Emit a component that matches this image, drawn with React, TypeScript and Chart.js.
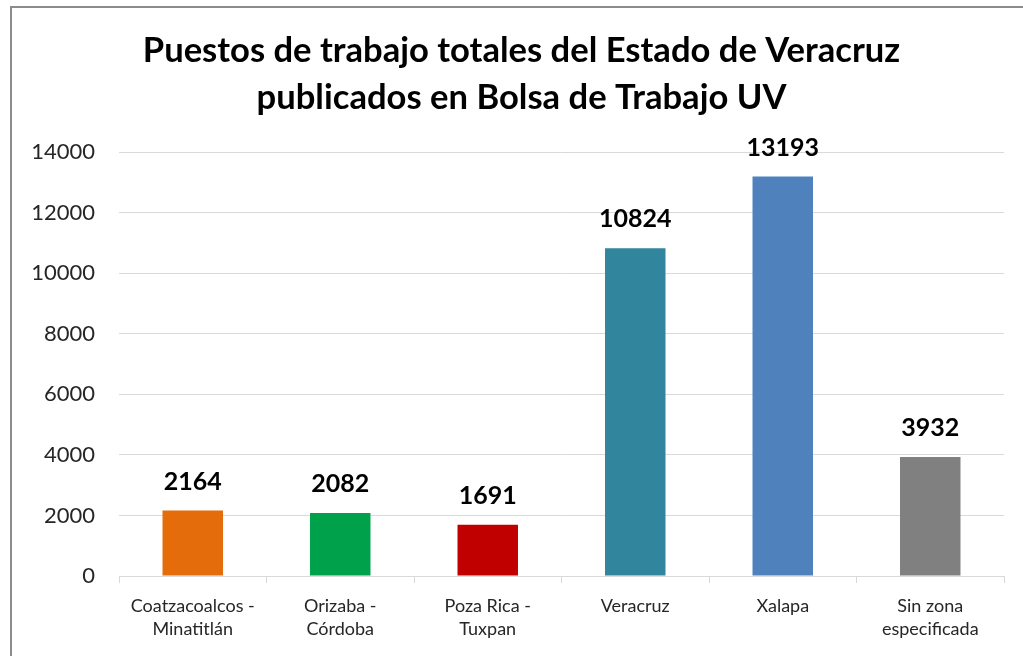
import React, { useEffect, useRef } from "react";
import { Chart, registerables } from "chart.js";

Chart.register(...registerables);

const titleLines = [
  "Puestos de trabajo totales del Estado de Veracruz",
  "publicados en Bolsa de Trabajo UV",
];
const categories: string[][] = [
  ["Coatzacoalcos -", "Minatitlán"],
  ["Orizaba -", "Córdoba"],
  ["Poza Rica -", "Tuxpan"],
  ["Veracruz"],
  ["Xalapa"],
  ["Sin zona", "especificada"],
];
const values = [2164, 2082, 1691, 10824, 13193, 3932];
const barColors = ["#E46C0A", "#00A14B", "#C00000", "#31859C", "#4F81BD", "#808080"];
const yMin = 0;
const yMax = 14000;
const yStep = 2000;

const FONT = "Lato, 'Open Sans', sans-serif";

const valueLabels = {
  id: "valueLabels",
  afterDatasetsDraw(chart: any) {
    const ctx = chart.ctx;
    const meta = chart.getDatasetMeta(0);
    ctx.save();
    ctx.font = `bold 25px ${FONT}`;
    ctx.fillStyle = "#000000";
    ctx.textAlign = "center";
    ctx.textBaseline = "middle";
    meta.data.forEach((bar: any, i: number) => {
      ctx.fillText(String(values[i]), bar.x, bar.y - 29);
    });
    ctx.restore();
  },
};

const titleDraw = {
  id: "titleDraw",
  afterDraw(chart: any) {
    const ctx = chart.ctx;
    ctx.save();
    ctx.font = `bold 34.6px ${FONT}`;
    ctx.fillStyle = "#000000";
    ctx.textAlign = "center";
    ctx.textBaseline = "middle";
    const cx = (chart.width + 20) / 2;
    titleLines.forEach((line, i) => {
      ctx.fillText(line, cx, 51 + i * 47);
    });
    ctx.restore();
  },
};

export default function App() {
  const ref = useRef<HTMLCanvasElement | null>(null);
  useEffect(() => {
    if (!ref.current) return;
    const chart = new Chart(ref.current, {
      type: "bar",
      data: {
        labels: categories,
        datasets: [
          {
            data: values,
            backgroundColor: barColors,
            borderWidth: 0,
            barPercentage: 0.41,
            categoryPercentage: 1,
          },
        ],
      },
      options: {
        animation: false,
        responsive: false,
        maintainAspectRatio: false,
        layout: { padding: { left: 0, right: 19, top: 152, bottom: 0 } },
        plugins: {
          legend: { display: false },
          tooltip: { enabled: false },
          title: { display: false },
        },
        scales: {
          x: {
            grid: {
              display: true,
              drawOnChartArea: false,
              drawTicks: true,
              tickLength: 7,
              color: "#D9D9D9",
              lineWidth: 1,
            },
            border: { display: true, color: "#D9D9D9", width: 1 },
            ticks: {
              color: "#262626",
              font: { family: FONT, size: 18, lineHeight: 1.28 },
              padding: 12,
              maxRotation: 0,
              autoSkip: false,
            },
            afterFit(scale: any) {
              scale.height = 80;
            },
          },
          y: {
            min: yMin,
            max: yMax,
            grid: {
              display: true,
              drawTicks: false,
              color: "#D9D9D9",
              lineWidth: 1,
            },
            border: { display: false },
            ticks: {
              stepSize: yStep,
              color: "#262626",
              font: { family: FONT, size: 22 },
              padding: 24,
              callback: (v: any) => String(v),
            },
            afterFit(scale: any) {
              scale.width = 119;
            },
          },
        },
      },
      plugins: [valueLabels, titleDraw],
    });
    return () => chart.destroy();
  }, []);

  return (
    <div
      style={{
        position: "fixed",
        left: 0,
        top: 0,
        width: 1023,
        height: 656,
        overflow: "hidden",
        background: "#ffffff",
      }}
    >
      <div
        style={{
          position: "absolute",
          left: 10,
          top: 6,
          width: 1100,
          height: 700,
          border: "2px solid #8C8C8C",
          boxSizing: "border-box",
        }}
      />
      <canvas
        ref={ref}
        width={1023}
        height={656}
        style={{ position: "absolute", left: 0, top: 0, width: 1023, height: 656 }}
      />
    </div>
  );
}
